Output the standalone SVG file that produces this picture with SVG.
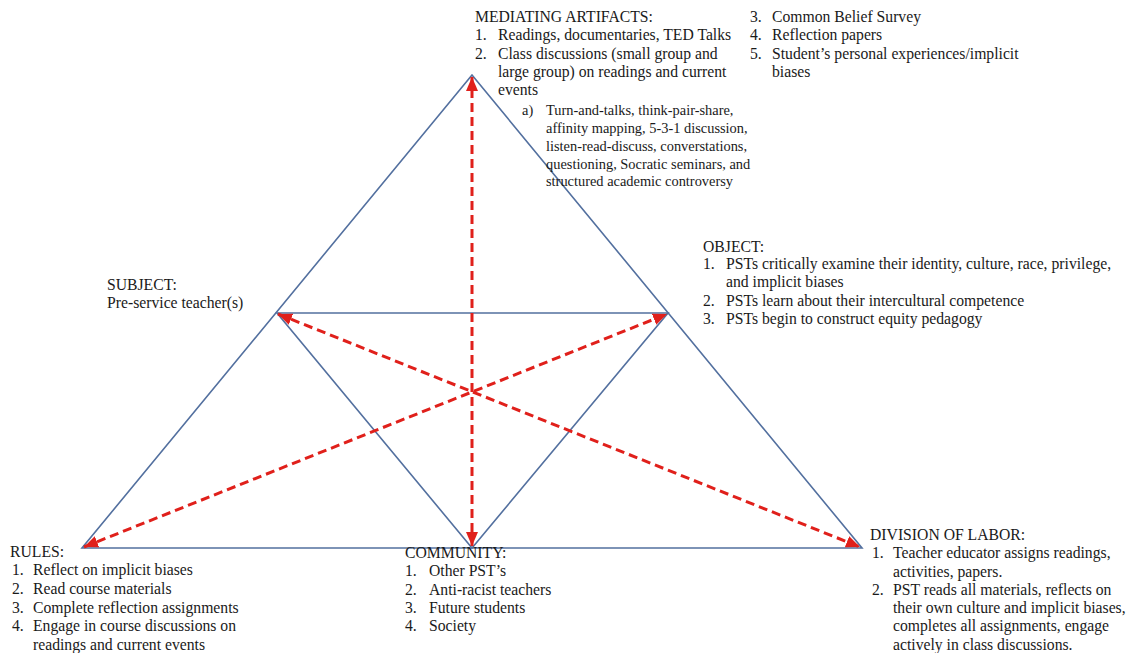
<svg xmlns="http://www.w3.org/2000/svg" width="1130" height="653" viewBox="0 0 1130 653">
<style>
text{font-family:"Liberation Serif","Times New Roman",serif;font-size:15.7px;fill:#1a1a1a}
.sub{font-size:14.4px}
.edge{stroke:#53709f;stroke-width:1.6;fill:none}
.arr{stroke:#e0201b;stroke-width:3;stroke-dasharray:9 5;fill:none}
</style>
<defs>
<marker id="ah" viewBox="0 0 14 12" refX="14" refY="6" markerWidth="14" markerHeight="12" markerUnits="userSpaceOnUse" orient="auto-start-reverse">
<path d="M0,0 L14,6 L0,12 Z" fill="#e0201b"/>
</marker>
</defs>
<rect width="1130" height="653" fill="#ffffff"/>
<g id="connectors">
<path class="edge" d="M472,75 L82,548 L862,548 Z"/>
<path class="edge" d="M277,313 L668,313 L472,548 Z"/>
<line class="arr" x1="472" y1="546" x2="472" y2="77" marker-start="url(#ah)" marker-end="url(#ah)"/>
<line class="arr" x1="84" y1="547" x2="667" y2="314" marker-start="url(#ah)" marker-end="url(#ah)"/>
<line class="arr" x1="278" y1="314" x2="860" y2="547" marker-start="url(#ah)" marker-end="url(#ah)"/>
</g>
<g id="mediating-artifacts">
<text x="475" y="22">MEDIATING ARTIFACTS:</text>
<text x="475" y="40">1.</text><text x="498" y="40">Readings, documentaries, TED Talks</text>
<text x="475" y="58.5">2.</text><text x="498" y="58.5">Class discussions (small group and</text>
<text x="498" y="77">large group) on readings and current</text>
<text x="498" y="95">events</text>
<text class="sub" x="522" y="115">a)</text>
<text class="sub" x="546" y="115">Turn-and-talks, think-pair-share,</text>
<text class="sub" x="546" y="133">affinity mapping, 5-3-1 discussion,</text>
<text class="sub" x="546" y="151">listen-read-discuss, converstations,</text>
<text class="sub" x="546" y="168.5">questioning, Socratic seminars, and</text>
<text class="sub" x="546" y="186">structured academic controversy</text>
<text x="750" y="22">3.</text><text x="772" y="22">Common Belief Survey</text>
<text x="750" y="40">4.</text><text x="772" y="40">Reflection papers</text>
<text x="750" y="58.5">5.</text><text x="772" y="58.5">Student’s personal experiences/implicit</text>
<text x="772" y="77">biases</text>
</g>
<g id="object">
<text x="703" y="252">OBJECT:</text>
<text x="703" y="269">1.</text><text x="726" y="269">PSTs critically examine their identity, culture, race, privilege,</text>
<text x="726" y="287">and implicit biases</text>
<text x="703" y="306">2.</text><text x="726" y="306">PSTs learn about their intercultural competence</text>
<text x="703" y="324">3.</text><text x="726" y="324">PSTs begin to construct equity pedagogy</text>
</g>
<g id="subject">
<text x="107" y="290">SUBJECT:</text>
<text x="107" y="308">Pre-service teacher(s)</text>
</g>
<g id="rules">
<text x="10" y="557">RULES:</text>
<text x="12" y="575">1.</text><text x="33" y="575">Reflect on implicit biases</text>
<text x="12" y="594">2.</text><text x="33" y="594">Read course materials</text>
<text x="12" y="613">3.</text><text x="33" y="613">Complete reflection assignments</text>
<text x="12" y="631">4.</text><text x="33" y="631">Engage in course discussions on</text>
<text x="33" y="650">readings and current events</text>
</g>
<g id="community">
<text x="405" y="558">COMMUNITY:</text>
<text x="405" y="576">1.</text><text x="429" y="576">Other PST’s</text>
<text x="405" y="594.5">2.</text><text x="429" y="594.5">Anti-racist teachers</text>
<text x="405" y="613">3.</text><text x="429" y="613">Future students</text>
<text x="405" y="631">4.</text><text x="429" y="631">Society</text>
</g>
<g id="division-of-labor">
<text x="870" y="540">DIVISION OF LABOR:</text>
<text x="872" y="558">1.</text><text x="893" y="558">Teacher educator assigns readings,</text>
<text x="893" y="577">activities, papers.</text>
<text x="872" y="595">2.</text><text x="893" y="595">PST reads all materials, reflects on</text>
<text x="893" y="613">their own culture and implicit biases,</text>
<text x="893" y="631">completes all assignments, engage</text>
<text x="893" y="650">actively in class discussions.</text>
</g>
</svg>
